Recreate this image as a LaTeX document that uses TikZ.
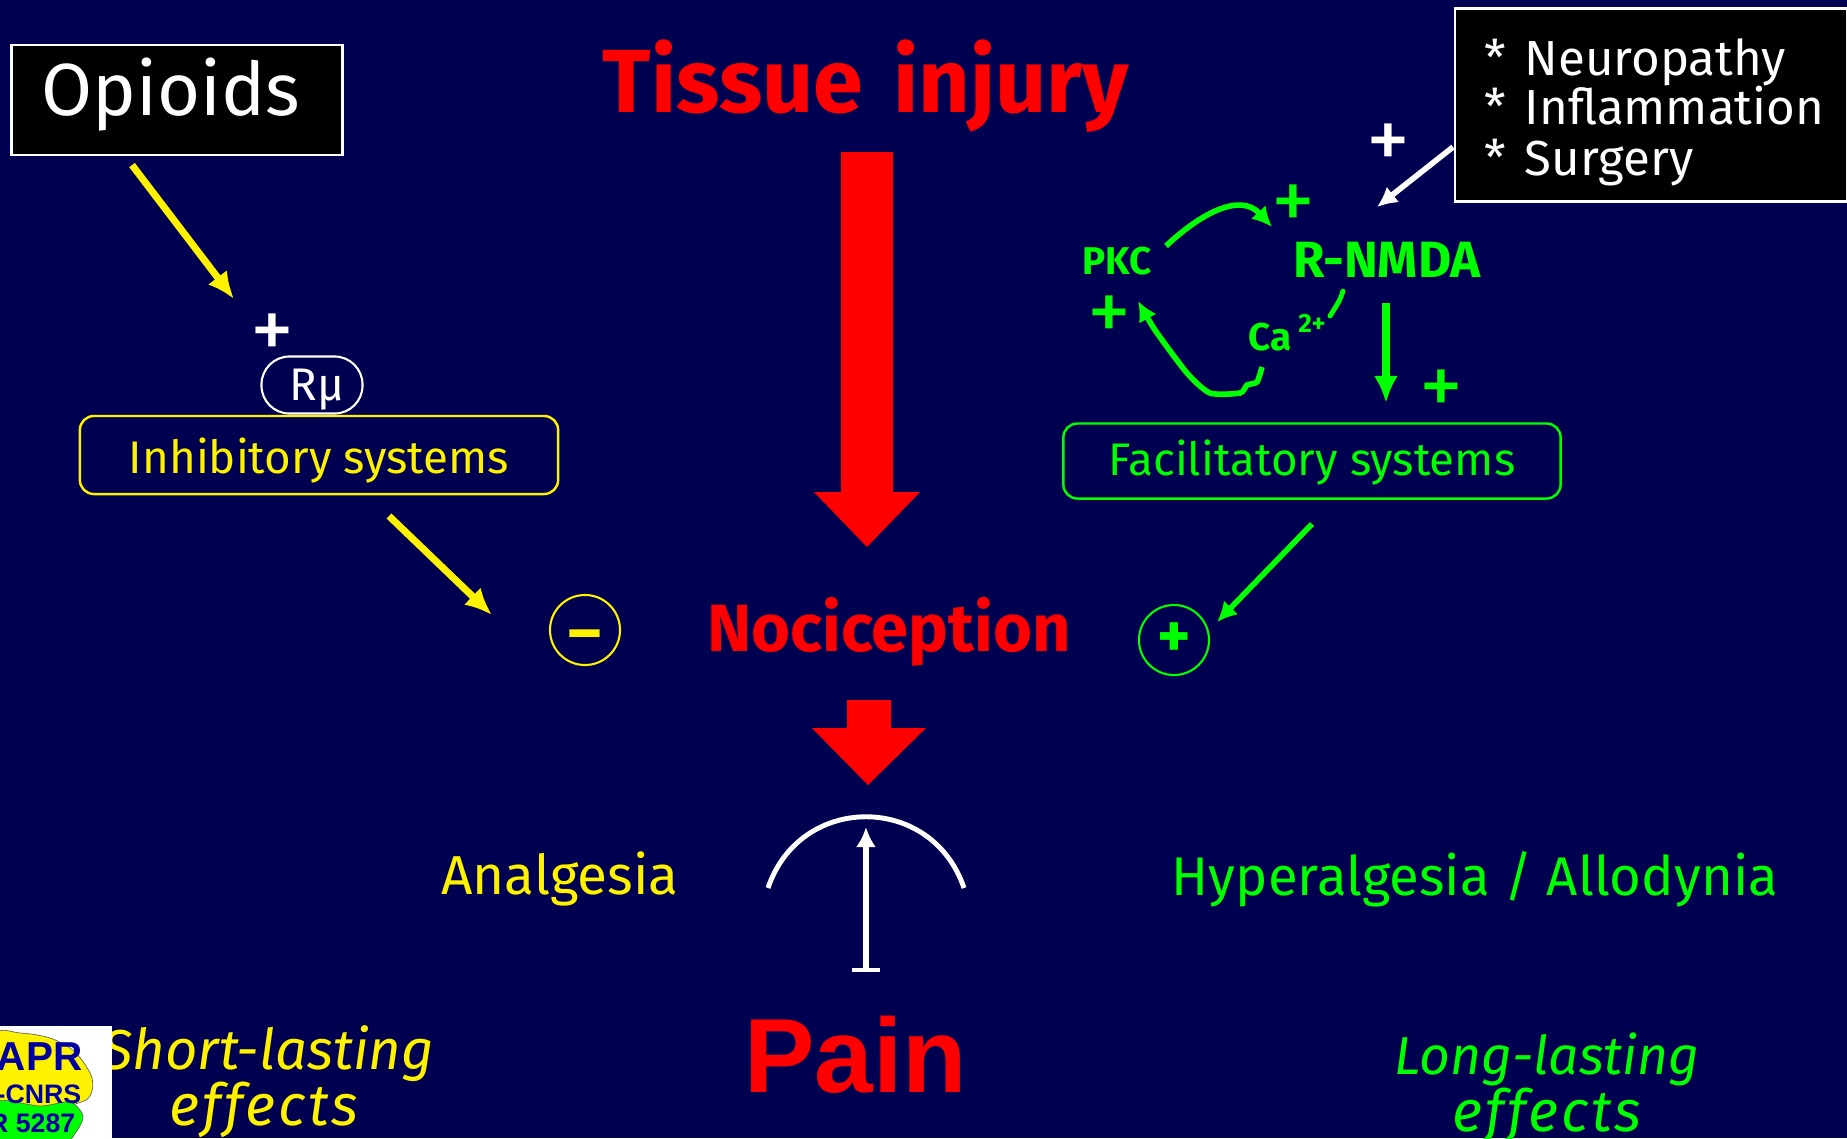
\documentclass[tikz,border=0pt]{standalone}
\usepackage{fontspec}
\setmainfont{Fira Sans}
\usetikzlibrary{arrows.meta}
\definecolor{slidebg}{RGB}{0,0,80}
\definecolor{slidegreen}{RGB}{0,255,0}
\definecolor{logoblue}{RGB}{0,0,160}
\newcommand{\fsz}[1]{\fontsize{#1pt}{#1pt}\selectfont}
\newcommand{\nudge}[2]{\raisebox{#1}[0pt][0pt]{#2}}
\tikzset{
  boxlabel/.style={rounded corners=4pt,line width=0.7pt,inner sep=0pt},
  plussign/.style={inner sep=0pt,font=\fsz{25}},
  signcircle/.style={circle,line width=0.6pt,minimum size=0.7cm,inner sep=0pt,font=\fsz{18}\bfseries},
  listline/.style={anchor=west,inner sep=0pt,text=white,font=\fsz{14}},
  thinarrow/.style={line width=1.6pt,-{Latex[length=0.2cm,width=0.2cm]}},
  yellowarrow/.style={color=yellow,line width=2pt,-{Latex[length=0.27cm,width=0.24cm]}},
  effectstext/.style={inner sep=0pt,font=\fsz{16.5}\itshape\addfontfeatures{LetterSpace=5}}
}
\begin{document}
\begin{tikzpicture}[x=0.01cm,y=-0.01cm]
    \useasboundingbox (0,0) rectangle (1847,1138);
    \clip (0,0) rectangle (1847,1138);
    \fill[slidebg] (0,0) rectangle (1847,1138);
    % boxes
    \node[draw=white,fill=black,line width=0.7pt,inner sep=0pt,minimum width=3.31cm,minimum height=1.10cm,text=white,font=\fsz{21}] (opioids) at (177,100) {\hspace{-0.12cm}\nudge{-0.15cm}{Opioids}};
    \node[draw=white,fill=black,line width=0.7pt,minimum width=3.92cm,minimum height=1.93cm] (causes) at (1651,105) {};
    \node[listline] (neuro) at (1484,62) {\makebox[0.40cm][l]{*}Neuropathy};
    \node[listline] (inflam) at (1484,106) {\makebox[0.40cm][l]{*}Inflammation};
    \node[listline] (surgery) at (1484,163) {\makebox[0.40cm][l]{*}Surgery};
    \node[boxlabel,draw=yellow,text=yellow,minimum width=4.78cm,minimum height=0.78cm,font=\fsz{13}] (inhib) at (319,455) {\nudge{-0.18cm}{Inhibitory systems}};
    \node[boxlabel,draw=slidegreen,text=slidegreen,minimum width=4.97cm,minimum height=0.75cm,font=\fsz{13}] (facil) at (1312,461) {\nudge{-0.14cm}{Facilitatory systems}};
    \node[draw=white,text=white,rounded corners=0.28cm,line width=0.6pt,minimum width=1.01cm,minimum height=0.57cm,inner sep=0pt,font=\fsz{13}] (rmu) at (312,385) {\hspace{0.1cm}\nudge{-0.15cm}{Rμ}};
    % titles
    \node[color=red,font=\fsz{25.5}\bfseries,inner sep=0pt] (tissue) at (866,86) {Tissue\hspace{0.3cm}injury};
    \node[color=red,font=\fsz{19}\bfseries,inner sep=0pt] (nocicep) at (889,632) {Nociception};
    \node[color=red,font={\fontspec{Liberation Sans}\fsz{30}\bfseries},inner sep=0pt] (pain) at (856,1055) {Pain};
    \node[color=yellow,font=\fsz{15.6},inner sep=0pt] (analg) at (560,879) {Analgesia};
    \node[color=slidegreen,font=\fsz{15.5},inner sep=0pt] (hyper) at (1475,879) {Hyperalgesia / Allodynia};
    \node[color=yellow,font=\fsz{16}\itshape,inner sep=0pt] (short) at (268,1054) {Short-lasting};
    \node[color=yellow,effectstext] (shorteff) at (264,1110) {effects};
    \node[color=slidegreen,font=\fsz{15.2}\itshape,inner sep=0pt] (long) at (1547,1059) {Long-lasting};
    \node[color=slidegreen,effectstext] (longeff) at (1547,1116) {effects};
    % receptors
    \node[color=slidegreen,font=\fsz{11}\bfseries,inner sep=0pt] (pkc) at (1117,261) {PKC};
    \node[color=slidegreen,font=\fsz{14.5}\bfseries,inner sep=0pt] (nmda) at (1387,260) {R-NMDA};
    \node[color=slidegreen,font=\fsz{11}\bfseries,inner sep=0pt] (ca) at (1270,337) {Ca};
    \node[color=slidegreen,font=\fsz{7.5}\bfseries,inner sep=0pt] (catwo) at (1312,323) {2+};
    % signs
    \node[plussign,text=white] (plusa) at (272,337) {+};
    \node[plussign,text=white] (plusb) at (1388,147) {+};
    \node[plussign,text=slidegreen] (plusc) at (1293,208) {+};
    \node[plussign,text=slidegreen] (plusd) at (1109,319) {+};
    \node[plussign,text=slidegreen] (pluse) at (1441,393) {+};
    \node[signcircle,draw=yellow,text=yellow] (minus) at (585,630) {\nudge{-0.23cm}{–}};
    \node[signcircle,draw=slidegreen,text=slidegreen] (plusf) at (1174,640) {+};
    % free ends of the arrows
    \coordinate (opstart) at (132,165);
    \coordinate (opend) at (234,299);
    \coordinate (inhstart) at (389,516);
    \coordinate (inhend) at (492,615);
    \coordinate (facstart) at (1312,524);
    \coordinate (facend) at (1217,622);
    \coordinate (causestart) at (1453,147);
    \coordinate (causeend) at (1377,207);
    \coordinate (nmdastart) at (1386,303);
    \coordinate (nmdaend) at (1386,403);
    \coordinate (pinstart) at (866,970);
    \coordinate (pinend) at (866,827);
    \coordinate (barleft) at (852,970);
    \coordinate (barright) at (880,970);
    \coordinate (dashtop) at (1343,291);
    \coordinate (dashbot) at (1330,316);
    \coordinate (pkcstart) at (1166,246);
    \coordinate (pkcend) at (1272,227);
    \coordinate (gaugeleft) at (768,888);
    \coordinate (gaugeright) at (964,888);
    % arrows
    \draw[yellowarrow] (opstart) -- (opend);
    \draw[yellowarrow] (inhstart) -- (inhend);
    \draw[thinarrow,color=slidegreen] (facstart) -- (facend);
    \draw[thinarrow,color=white] (causestart) -- (causeend);
    \draw[color=slidegreen,line width=2.2pt,-{Latex[length=0.27cm,width=0.24cm]}] (nmdastart) -- (nmdaend);
    \draw[color=slidegreen,line width=1.4pt,line cap=round] (dashtop) .. controls (1340,300) .. (dashbot);
    \draw[thinarrow,color=slidegreen] (pkcstart) .. controls (1200,214) and (1240,192) .. (pkcend);
    \draw[thinarrow,color=slidegreen] plot[smooth,tension=0.4] coordinates {(1262,367) (1257,382) (1247,385) (1240,393) (1210,393) (1187,373) (1155,330) (1138,301)};
    \fill[red] (841,152) -- (893,152) -- (893,492) -- (920,492) -- (867,547) -- (814,492) -- (841,492) -- cycle;
    \fill[red] (847,700) -- (891,700) -- (891,728) -- (926,728) -- (868,785) -- (812,728) -- (847,728) -- cycle;
    % gauge
    \draw[color=white,line width=1.4pt] (gaugeleft) .. controls (800,793) and (932,793) .. (gaugeright);
    \draw[thinarrow,color=white] (pinstart) -- (pinend);
    \draw[color=white,line width=1.4pt] (barleft) -- (barright);
    % logo
    \fill[white] (0,1026) rectangle (112,1138);
    \begin{scope}
        \clip (0,1026) rectangle (112,1138);
        \draw[fill=yellow,draw=black!60,line width=0.2pt] plot[smooth cycle] coordinates {(-5,1036) (20,1033) (50,1038) (75,1052) (92,1078) (86,1100) (40,1110) (-5,1110)};
        \draw[fill=slidegreen,draw=black!60,line width=0.2pt] plot[smooth cycle] coordinates {(-5,1102) (40,1106) (70,1102) (83,1116) (76,1132) (60,1145) (-5,1145)};
        \node[anchor=east,inner sep=0pt,text=logoblue,font={\fontspec{Liberation Sans}\fsz{11.5}\bfseries}] (logoa) at (83,1057) {IAPR};
        \node[anchor=east,inner sep=0pt,text=logoblue,font={\fontspec{Liberation Sans}\fsz{7.6}\bfseries}] (logob) at (82,1094) {-CNRS};
        \node[anchor=east,inner sep=0pt,text=logoblue,font={\fontspec{Liberation Sans}\fsz{7.6}\bfseries}] (logoc) at (76,1123) {R 5287};
    \end{scope}
\end{tikzpicture}
\end{document}
